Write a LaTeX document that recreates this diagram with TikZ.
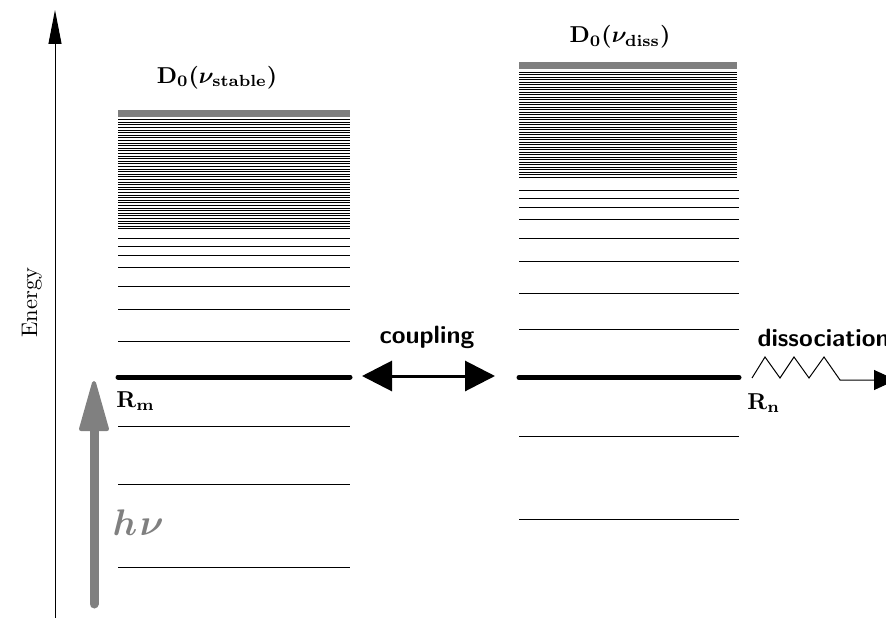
\documentclass[tikz,border=0pt]{standalone}
\usepackage{amsmath}
\usetikzlibrary{arrows.meta}
\definecolor{limitgray}{HTML}{7F7F7F}
\definecolor{photongray}{HTML}{808080}
\newcommand{\dlabel}[1]{$\mathrm{D}_{0}\mathrm{(}\nu_{\mathrm{#1}}\mathrm{)}$}
\begin{document}
\begin{tikzpicture}[x=1pt,y=-1pt,
  level/.style={line width=0.9pt},
  denselevel/.style={line width=0.65pt},
  keylevel/.style={line width=5pt,line cap=round},
  limitbar/.style={line width=7pt,draw=limitgray},
  lbl/.style={font=\boldmath,scale=2.3,inner sep=0pt,anchor=base},
  sflbl/.style={font=\sffamily\bfseries,scale=2.5,inner sep=0pt,anchor=base}]
\useasboundingbox (0,0) rectangle (886,618);

% energy axis
\coordinate (axis-bot) at (55,618);
\coordinate (axis-top) at (55,10);
\draw[line width=1pt,-{Triangle[length=34pt,width=13pt]}] (axis-bot) -- (axis-top);
\node[rotate=90,transform shape,scale=2.25,inner sep=0pt,anchor=base west] (energy) at (37,338) {Energy};

% left well: stable vibrational ladder
\draw[limitbar] (118,113) -- (350,113);
\foreach \i in {0,...,42}
  \draw[denselevel] (118,{119.5+2.6*\i}) -- (350,{119.5+2.6*\i});
\foreach \yy in {238,246,255,267,286,309,341,426,484,567}
  \draw[level] (118,\yy) -- (350,\yy);
\draw[keylevel] (118,377) -- (350,377);
\node[lbl] (dstable) at (217,83) {\dlabel{stable}};
\node[lbl,anchor=base west] (rm) at (116,407) {$\mathrm{R}_{\mathrm{m}}$};

% right well: dissociative ladder
\draw[limitbar] (519,66) -- (737,66);
\foreach \i in {0,...,42}
  \draw[denselevel] (519,{72+2.5*\i}) -- (737,{72+2.5*\i});
\foreach \yy in {190.5,198,207,219,238,261,293,329,436,519}
  \draw[level] (519,\yy) -- (739,\yy);
\draw[keylevel] (519,377.5) -- (739,377.5);
\node[lbl] (ddiss) at (620,43) {\dlabel{diss}};
\node[lbl,anchor=base west] (rn) at (747,409) {$\mathrm{R}_{\mathrm{n}}$};

% coupling between the two resonant levels
\coordinate (cpl-l) at (362,376);
\coordinate (cpl-r) at (495,376);
\draw[line width=3pt,{Triangle[length=30pt,width=30pt]}-{Triangle[length=30pt,width=30pt]}] (cpl-l) -- (cpl-r);
\node[sflbl] (coupling) at (427,343) {coupling};

% dissociation channel
\coordinate (dis-start) at (752,378);
\coordinate (dis-tip) at (896,380);
\draw[line width=1pt,-{Triangle[length=22pt,width=20pt]}]
  (dis-start) -- (765,357) -- (780,378) -- (794,357) -- (809,378) -- (824,357) -- (840,380) -- (dis-tip);
\node[sflbl,anchor=base west] (dissoc) at (757,346) {dissociation};

% photon excitation
\coordinate (hv-start) at (94,604);
\coordinate (hv-tip) at (94,383);
\coordinate (hv-base) at (94,426);
\draw[photongray,line width=9pt,line cap=round] (hv-start) -- (hv-base);
\filldraw[photongray,line width=4pt,line join=round] (hv-tip) -- (107,429) -- (81,429) -- cycle;
\node[photongray,font=\boldmath,scale=3.7,inner sep=0pt,anchor=base west] (hv) at (112,535) {$h\mkern1mu\nu$};
\end{tikzpicture}
\end{document}
